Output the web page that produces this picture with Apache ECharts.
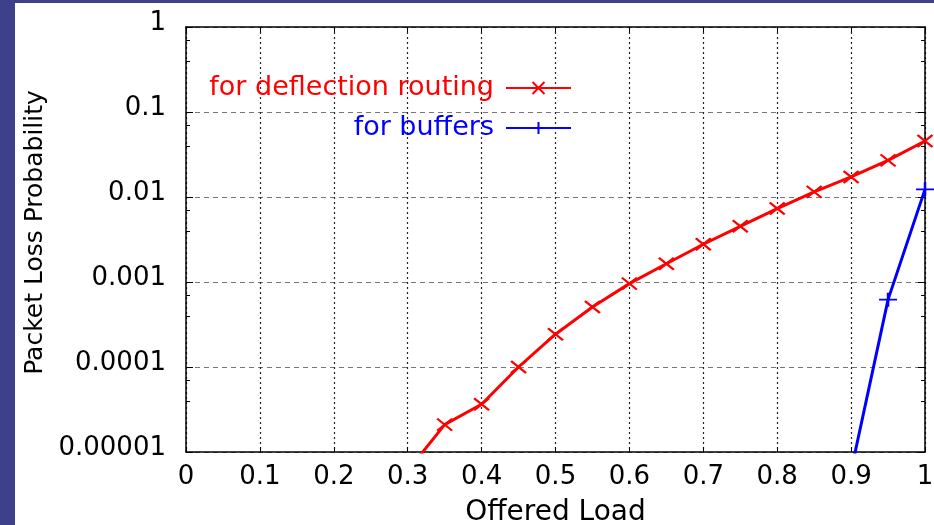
<!DOCTYPE html>
<html>
<head>
<meta charset="utf-8">
<title>Packet Loss Probability</title>
<script src="https://cdn.jsdelivr.net/npm/echarts@6/dist/echarts.min.js"></script>
</head>
<body style="margin:0">
<div id="main" style="width:934px;height:525px;"></div>
<script type="text/javascript">
// offered load vs. packet loss
var deflectionLoads = [0.3, 0.35, 0.4, 0.45, 0.5, 0.55, 0.6, 0.65, 0.7, 0.75, 0.8, 0.85, 0.9, 0.95, 1.0];
var deflectionLoss = [6.0e-6, 2.1e-5, 3.64e-5, 1.0e-4, 2.43e-4, 5.08e-4, 9.57e-4, 1.64e-3, 2.78e-3, 4.52e-3, 7.31e-3, 1.15e-2, 1.72e-2, 2.70e-2, 4.56e-2];
var bufferLoads = [0.9, 0.95, 1.0];
var bufferLoss = [6.0e-6, 6.2e-4, 1.23e-2];
var seriesNames = ['for deflection routing', 'for buffers'];
var xTickLabels = ['0', '0.1', '0.2', '0.3', '0.4', '0.5', '0.6', '0.7', '0.8', '0.9', '1'];
var yTickLabels = ['0.00001', '0.0001', '0.001', '0.01', '0.1', '1'];

var FONT = 'DejaVu Sans';
var crossPath = 'path://M0,0L10,10M10,0L0,10';
var plusPath = 'path://M5,0L5,10M0,5L10,5';

function pairs(xs, ys) {
    return xs.map(function (x, i) { return [x, ys[i]]; });
}

var myChart = echarts.init(document.getElementById('main'));

var boxLine = {show: true, onZero: false, lineStyle: {color: '#000', width: 1.5}};

var option = {
    backgroundColor: '#fff',
    animation: false,
    graphic: [
        {type: 'rect', shape: {x: 0, y: 0, width: 15, height: 525}, style: {fill: '#3e408a'}},
        {type: 'rect', shape: {x: 0, y: 0, width: 934, height: 3}, style: {fill: '#3e408a'}}
    ],
    grid: {left: 186, right: 9, top: 27, bottom: 73, containLabel: false, outerBoundsMode: 'none'},
    legend: {
        orient: 'vertical',
        align: 'right',
        right: 362,
        top: 73,
        padding: 0,
        itemWidth: 65,
        itemHeight: 15,
        itemGap: 10,
        data: [
            {name: seriesNames[0], textStyle: {color: '#ff0000'}},
            {name: seriesNames[1], textStyle: {color: '#0000ff'}}
        ],
        textStyle: {fontFamily: FONT, fontSize: 27, lineHeight: 30, padding: [0, 7, 0, 0]}
    },
    xAxis: [{
        type: 'value',
        position: 'bottom',
        min: 0, max: 1, interval: 0.1,
        axisLine: boxLine,
        axisTick: {show: true, inside: true, length: 5, lineStyle: {color: '#000'}},
        axisLabel: {
            color: '#000', fontFamily: FONT, fontSize: 26, margin: 12,
            formatter: function (v) { return xTickLabels[Math.round(v * 10)]; }
        },
        splitLine: {show: true, lineStyle: {color: '#222', width: 1.2, type: [2, 3]}},
        name: 'Offered Load',
        nameLocation: 'middle',
        nameGap: 47,
        nameTextStyle: {color: '#000', fontFamily: FONT, fontSize: 28, verticalAlign: 'top'}
    }, {
        type: 'value',
        position: 'top',
        min: 0, max: 1, interval: 0.1,
        axisLine: boxLine,
        axisTick: {show: true, inside: true, length: 5, lineStyle: {color: '#000'}},
        axisLabel: {show: false},
        splitLine: {show: false}
    }],
    yAxis: [{
        type: 'log',
        logBase: 10,
        position: 'left',
        min: 0.00001, max: 1,
        axisLine: boxLine,
        axisTick: {show: true, inside: true, length: 7, lineStyle: {color: '#000'}},
        minorTick: {show: true, splitNumber: 3, length: 4, lineStyle: {color: '#000'}},
        axisLabel: {
            color: '#000', fontFamily: FONT, fontSize: 26, margin: 20,
            verticalAlign: 'bottom', lineHeight: 8,
            formatter: function (v) { return yTickLabels[Math.round(Math.log10(v)) + 5]; }
        },
        splitLine: {show: true, lineStyle: {color: '#777', width: 1.2, type: [5, 4]}},
        name: 'Packet Loss Probability',
        nameLocation: 'middle',
        nameGap: 136,
        nameTextStyle: {color: '#000', fontFamily: FONT, fontSize: 25, padding: [0, 0, 0, 14]}
    }, {
        type: 'log',
        logBase: 10,
        position: 'right',
        min: 0.00001, max: 1,
        axisLine: boxLine,
        axisTick: {show: true, inside: true, length: 7, lineStyle: {color: '#000'}},
        minorTick: {show: true, splitNumber: 3, length: 4, lineStyle: {color: '#000'}},
        axisLabel: {show: false},
        splitLine: {show: false}
    }],
    series: [{
        name: seriesNames[0],
        type: 'line',
        data: pairs(deflectionLoads, deflectionLoss),
        symbol: crossPath,
        symbolSize: [15, 12],
        clip: true,
        lineStyle: {color: '#ff0000', width: 3},
        itemStyle: {color: '#ff0000', borderColor: '#ff0000', borderWidth: 2.2}
    }, {
        name: seriesNames[1],
        type: 'line',
        data: pairs(bufferLoads, bufferLoss),
        symbol: plusPath,
        symbolSize: [18, 14],
        clip: true,
        lineStyle: {color: '#0000ff', width: 3},
        itemStyle: {color: '#0000ff', borderColor: '#0000ff', borderWidth: 2.2}
    }]
};

myChart.setOption(option);
</script>
</body>
</html>
